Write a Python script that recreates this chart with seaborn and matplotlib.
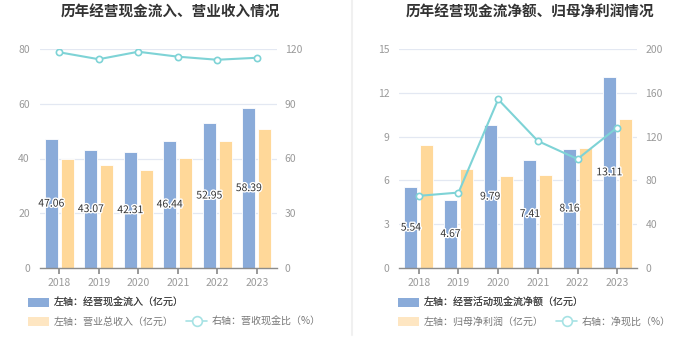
import numpy as np
import pandas as pd
import matplotlib.pyplot as plt
import matplotlib.patheffects as pe
from matplotlib.lines import Line2D
from matplotlib.patches import Patch
import seaborn as sns

# --- Data ---
years = ["2018", "2019", "2020", "2021", "2022", "2023"]

# left panel
cash_inflow = [47.06, 43.07, 42.31, 46.44, 52.95, 58.39]
revenue = [39.8, 37.6, 35.7, 40.1, 46.4, 50.7]
cash_ratio = [118.2, 114.4, 118.5, 115.8, 114.1, 115.2]

# right panel
op_cash_net = [5.54, 4.67, 9.79, 7.41, 8.16, 13.11]
net_profit = [8.40, 6.78, 6.32, 6.37, 8.20, 10.20]
net_cash_ratio = [65.9, 68.9, 154.0, 116.0, 99.5, 128.3]

BLUE = "#8aabd9"
ORANGE = "#ffd899"
CYAN = "#7ed3d6"
GRID = "#e3e8f2"
TICK = "#9a9a9a"

sns.set_theme(style="white")
plt.rcParams["font.family"] = ["Noto Sans CJK SC", "DejaVu Sans"]

W, H = 700, 359
fig = plt.figure(figsize=(W / 100, H / 100), dpi=100)


def px_rect(x0, y0, x1, y1):
    # pixel box (top-left origin) -> figure fraction rect
    return [x0 / W, 1 - y1 / H, (x1 - x0) / W, (y1 - y0) / H]


def draw_panel(rect, title, title_x, bars1, bars2, line, names,
               lticks, rticks, leg_x, colspace):
    ax = fig.add_axes(rect)
    df = pd.DataFrame({
        "year": years * 2,
        "value": bars1 + bars2,
        "series": [names[0]] * len(years) + [names[1]] * len(years),
    })
    sns.barplot(data=df, x="year", y="value", hue="series",
                palette=[BLUE, ORANGE], saturation=1, width=0.8, gap=0.18,
                edgecolor="white", linewidth=0.6, legend=False, ax=ax)
    ax.set_ylim(lticks[0], lticks[-1])
    ax.set_yticks(lticks)
    ax.yaxis.grid(True, color=GRID, linewidth=0.9)
    ax.set_axisbelow(True)
    ax.set_xlabel("")
    ax.set_ylabel("")
    for s in ["top", "right", "left"]:
        ax.spines[s].set_visible(False)
    ax.spines["bottom"].set_color("#8c8c8c")
    ax.spines["bottom"].set_linewidth(1)
    ax.tick_params(axis="x", length=4, color="#8c8c8c", labelcolor=TICK,
                   labelsize=7.5, pad=3, bottom=True)
    ax.tick_params(axis="y", length=0, labelcolor=TICK, labelsize=7.5, pad=7)

    labels = ax.bar_label(ax.containers[0], labels=[f"{v:.2f}" for v in bars1],
                          label_type="center", fontsize=7.5, color="#333333")
    for t in labels:
        t.set_path_effects([pe.withStroke(linewidth=2, foreground="white")])

    ax2 = ax.twinx()
    sns.lineplot(x=np.arange(len(years)), y=line, ax=ax2, color=CYAN,
                 linewidth=1.5, marker="o", markersize=4.5,
                 markerfacecolor="white", markeredgecolor=CYAN,
                 markeredgewidth=1.2)
    ax2.set_ylim(rticks[0], rticks[-1])
    ax2.set_yticks(rticks)
    ax2.set_ylabel("")
    for s in ["top", "right", "left", "bottom"]:
        ax2.spines[s].set_visible(False)
    ax2.tick_params(axis="y", length=0, labelcolor=TICK, labelsize=7.5, pad=6)
    ax.set_xlim(-0.5, len(years) - 0.5)

    fig.text(title_x / W, 1 - 12 / H, title, ha="center", va="center",
             fontsize=10.5, fontweight="bold", color="#333333")

    h1 = [Patch(facecolor=BLUE, edgecolor="none")]
    leg1 = ax.legend(h1, [names[0]], loc="center left",
                     bbox_to_anchor=(leg_x / W, 1 - 303 / H),
                     bbox_transform=fig.transFigure, frameon=False,
                     fontsize=7.2, handlelength=2.1, handleheight=1.0,
                     handletextpad=0.5, borderpad=0, borderaxespad=0,
                     labelcolor="#444444")
    ax.add_artist(leg1)
    h2 = [Patch(facecolor="#fee6c2", edgecolor="none"),
          Line2D([0], [0], color="#a6e2e4", linewidth=1.2, marker="o",
                 markersize=7, markerfacecolor="white",
                 markeredgecolor="#a6e2e4", markeredgewidth=1.2)]
    ax2.legend(h2, [names[1], names[2]], loc="center left",
               bbox_to_anchor=(leg_x / W, 1 - 322 / H),
               bbox_transform=fig.transFigure, frameon=False, ncol=2,
               fontsize=7.2, handlelength=2.1, handleheight=1.0,
               handletextpad=0.5, columnspacing=colspace, borderpad=0,
               borderaxespad=0, labelcolor="#777777")


draw_panel(px_rect(39.5, 49, 276.5, 268), "历年经营现金流入、营业收入情况", 170,
           cash_inflow, revenue, cash_ratio,
           ["左轴：经营现金流入（亿元）", "左轴：营业总收入（亿元）", "右轴：营收现金比（%）"],
           [0, 20, 40, 60, 80], [0, 30, 60, 90, 120], 28, 1.2)

draw_panel(px_rect(399, 49, 637, 268), "历年经营现金流净额、归母净利润情况", 530,
           op_cash_net, net_profit, net_cash_ratio,
           ["左轴：经营活动现金流净额（亿元）", "左轴：归母净利润（亿元）", "右轴：净现比（%）"],
           [0, 3, 6, 9, 12, 15], [0, 40, 80, 120, 160, 200], 398, 1.2)

# thin divider between the two panels
fig.add_artist(Line2D([352 / W, 352 / W], [1 - 335 / H, 1], color="#f0f0f0",
                      linewidth=1.5, transform=fig.transFigure))

fig.savefig("out.png", dpi=100)
